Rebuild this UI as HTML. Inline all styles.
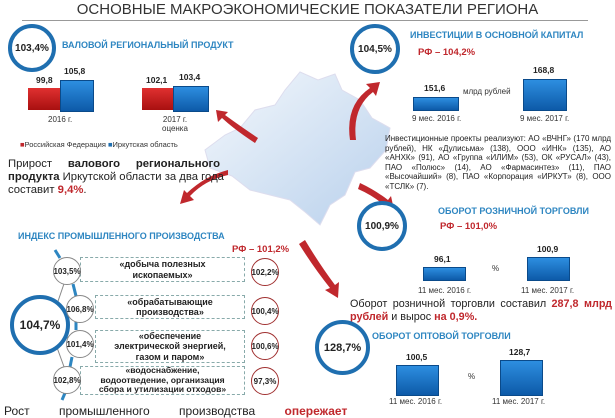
<!DOCTYPE html><html><head><meta charset="utf-8"><style>
body{margin:0;width:615px;height:410px;overflow:hidden;background:#fff;font-family:"Liberation Sans",sans-serif;position:relative}
.a{position:absolute;white-space:nowrap}
.c{position:absolute;border:4px solid #1f6fb0;border-radius:50%;display:flex;align-items:center;justify-content:center;font-weight:bold;color:#222;box-sizing:border-box;background:#fff}
.sc{position:absolute;border:1px solid #888;border-radius:50%;display:flex;align-items:center;justify-content:center;font-size:8px;font-weight:bold;color:#222;box-sizing:border-box;background:#fff}
.rc{position:absolute;border:1.5px solid #a03030;border-radius:50%;display:flex;align-items:center;justify-content:center;font-size:8px;font-weight:bold;color:#222;box-sizing:border-box;width:28px;height:28px}
.t{color:#2e86c1;font-weight:bold;font-size:9px}
.r{color:#c0282d;font-weight:bold}
.bl{position:absolute;background:linear-gradient(#2d8ee0,#0d5aa8);border:1px solid #0a4a8a}
.rd{position:absolute;background:linear-gradient(#e03030,#a81010)}
.n{position:absolute;font-size:8.5px;font-weight:bold;color:#222}
.d{position:absolute;font-size:8px;color:#333;white-space:nowrap}
.box{position:absolute;border:1px dashed #8aa;font-size:9px;font-weight:bold;text-align:center;color:#222;display:flex;align-items:center;justify-content:center;line-height:10.5px;box-sizing:border-box}
.j{text-align:justify;text-align-last:justify;white-space:nowrap}
</style></head><body>
<div class="a" style="left:0;width:615px;text-align:center;top:1px;font-size:15px;color:#333">ОСНОВНЫЕ МАКРОЭКОНОМИЧЕСКИЕ ПОКАЗАТЕЛИ РЕГИОНА</div>
<div style="position:absolute;left:22px;top:20px;width:566px;height:1px;background:#999"></div>
<svg style="position:absolute;left:0;top:0" width="615" height="410">
<defs><linearGradient id="m" x1="0" y1="0" x2="1" y2="1"><stop offset="0" stop-color="#f4f8fc"/><stop offset="1" stop-color="#b8d0ec"/></linearGradient></defs>
<path d="M300 72 L318 80 L335 74 L342 90 L360 100 L372 118 L390 128 L386 150 L370 168 L355 172 L345 195 L330 205 L320 225 L305 212 L290 200 L270 195 L250 190 L232 176 L210 168 L205 150 L225 135 L240 128 L255 110 L275 105 L285 90 Z" fill="url(#m)" stroke="#dde" />
<g fill="#c0282d">
<path d="M255 143 Q235 130 222 118 L218 122 L216 110 L228 112 L225 115 Q240 126 258 138Z"/>
<path d="M228 175 Q205 180 190 196 L194 200 L180 204 L184 190 L187 193 Q205 176 228 170Z"/>
<path d="M350 140 Q345 105 370 88 L366 84 L380 82 L376 96 L373 92 Q352 108 356 140Z"/>
<path d="M360 183 Q375 190 388 200 L391 196 L394 210 L381 208 L384 205 Q372 195 358 189Z"/>
<path d="M305 240 Q320 265 335 285 L339 282 L338 298 L325 290 L330 288 Q314 268 299 244Z"/>
</g>
<g stroke="#888" stroke-width="1" fill="none">
<line x1="55" y1="310" x2="67" y2="275"/><line x1="62" y1="318" x2="72" y2="310"/><line x1="62" y1="332" x2="72" y2="342"/><line x1="55" y1="342" x2="67" y2="375"/>
</g>
<g stroke="#2e86c1" stroke-width="3"><line x1="55" y1="250" x2="60" y2="258"/><line x1="73" y1="284" x2="76" y2="296"/><line x1="76" y1="322" x2="76" y2="330"/><line x1="72" y1="357" x2="70" y2="367"/><line x1="65" y1="393" x2="62" y2="400"/></g>
</svg>
<div class="c" style="left:8px;top:24px;width:48px;height:48px;font-size:10px">103,4%</div>
<div class="a t" style="left:62px;top:40px">ВАЛОВОЙ РЕГИОНАЛЬНЫЙ ПРОДУКТ</div>
<div class="rd" style="left:28px;top:88px;width:32px;height:22px"></div><div class="bl" style="left:60px;top:80px;width:32px;height:30px"></div>
<div class="n" style="left:36px;top:75px">99,8</div><div class="n" style="left:64px;top:66px">105,8</div>
<div class="d" style="left:48px;top:115px">2016 г.</div>
<div class="rd" style="left:142px;top:88px;width:31px;height:22px"></div><div class="bl" style="left:173px;top:86px;width:34px;height:24px"></div>
<div class="n" style="left:146px;top:75px">102,1</div><div class="n" style="left:179px;top:72px">103,4</div>
<div class="d" style="left:162px;top:115px;text-align:center">2017 г.<br>оценка</div>
<div class="d" style="left:20px;top:140px;font-size:7.5px"><span style="color:#c0282d">■</span>Российская Федерация <span style="color:#1f6fb0">■</span>Иркутская область</div>
<div class="a" style="left:8px;top:158px;width:212px;font-size:11.3px;line-height:13px;color:#222">
<div class="j">Прирост <b>валового регионального</b></div>
<div class="j"><b>продукта</b> Иркутской области за два года</div>
<div>составит <span class="r">9,4%</span>.</div></div>
<div class="a t" style="left:18px;top:231px">ИНДЕКС ПРОМЫШЛЕННОГО ПРОИЗВОДСТВА</div>
<div class="a r" style="left:232px;top:244px;font-size:9.5px">РФ – 101,2%</div>
<div class="box" style="left:80px;top:257px;width:165px;height:25px">«добыча полезных<br>ископаемых»</div>
<div class="box" style="left:95px;top:295px;width:150px;height:24px">«обрабатывающие<br>производства»</div>
<div class="box" style="left:95px;top:330px;width:150px;height:33px">«обеспечение<br>электрической энергией,<br>газом и паром»</div>
<div class="box" style="left:80px;top:366px;width:165px;height:29px;font-size:8.6px;line-height:9.5px">«водоснабжение,<br>водоотведение, организация<br>сбора и утилизации отходов»</div>
<div class="c" style="left:10px;top:295px;width:60px;height:60px;font-size:12px">104,7%</div>
<div class="sc" style="left:53px;top:257px;width:28px;height:28px">103,5%</div>
<div class="sc" style="left:66px;top:295px;width:28px;height:28px">106,8%</div>
<div class="sc" style="left:66px;top:330px;width:28px;height:28px">101,4%</div>
<div class="sc" style="left:53px;top:366px;width:28px;height:28px">102,8%</div>
<div class="rc" style="left:251px;top:258px">102,2%</div>
<div class="rc" style="left:251px;top:297px">100,4%</div>
<div class="rc" style="left:251px;top:332px">100,6%</div>
<div class="rc" style="left:251px;top:367px">97,3%</div>
<div class="a" style="left:4px;top:404px;font-size:12px;color:#222;word-spacing:26px">Рост промышленного производства <span class="r">опережает</span></div>
<div class="c" style="left:350px;top:24px;width:50px;height:50px;font-size:10px">104,5%</div>
<div class="a t" style="left:410px;top:30px">ИНВЕСТИЦИИ В ОСНОВНОЙ КАПИТАЛ</div>
<div class="a r" style="left:418px;top:47px;font-size:9.5px">РФ – 104,2%</div>
<div class="bl" style="left:413px;top:97px;width:44px;height:12px"></div><div class="bl" style="left:523px;top:79px;width:42px;height:30px"></div>
<div class="n" style="left:424px;top:83px">151,6</div><div class="n" style="left:533px;top:65px">168,8</div>
<div class="d" style="left:463px;top:87px">млрд рублей</div>
<div class="d" style="left:412px;top:114px">9 мес. 2016 г.</div><div class="d" style="left:520px;top:114px">9 мес. 2017 г.</div>
<div class="a" style="left:385px;top:134px;width:226px;white-space:normal;font-size:8px;line-height:9.6px;text-align:justify;color:#222">Инвестиционные проекты реализуют: АО «ВЧНГ» (170 млрд рублей), НК «Дулисьма» (138), ООО «ИНК» (135), АО «АНХК» (91), АО «Группа «ИЛИМ» (53), ОК «РУСАЛ» (43), ПАО «Полюс» (14), АО «Фармасинтез» (11), ПАО «Высочайший» (8), ПАО «Корпорация «ИРКУТ» (8), ООО «ТСЛК» (7).</div>
<div class="c" style="left:357px;top:201px;width:50px;height:50px;font-size:10px">100,9%</div>
<div class="a t" style="left:438px;top:206px">ОБОРОТ РОЗНИЧНОЙ ТОРГОВЛИ</div>
<div class="a r" style="left:440px;top:221px;font-size:9.5px">РФ – 101,0%</div>
<div class="bl" style="left:423px;top:267px;width:41px;height:12px"></div><div class="bl" style="left:527px;top:257px;width:41px;height:22px"></div>
<div class="n" style="left:434px;top:254px">96,1</div><div class="n" style="left:537px;top:244px">100,9</div>
<div class="d" style="left:492px;top:264px">%</div>
<div class="d" style="left:418px;top:286px">11 мес. 2016 г.</div><div class="d" style="left:521px;top:286px">11 мес. 2017 г.</div>
<div class="a" style="left:350px;top:298px;width:262px;white-space:normal;font-size:10.8px;line-height:13px;text-align:justify;color:#222">Оборот розничной торговли составил <span class="r">287,8 млрд рублей</span> и вырос <span class="r">на 0,9%.</span></div>
<div class="c" style="left:315px;top:320px;width:55px;height:55px;font-size:11px">128,7%</div>
<div class="a t" style="left:372px;top:331px">ОБОРОТ ОПТОВОЙ ТОРГОВЛИ</div>
<div class="bl" style="left:396px;top:365px;width:41px;height:29px"></div><div class="bl" style="left:500px;top:360px;width:41px;height:34px"></div>
<div class="n" style="left:406px;top:352px">100,5</div><div class="n" style="left:509px;top:347px">128,7</div>
<div class="d" style="left:468px;top:372px">%</div>
<div class="d" style="left:389px;top:397px">11 мес. 2016 г.</div><div class="d" style="left:492px;top:397px">11 мес. 2017 г.</div>
</body></html>
